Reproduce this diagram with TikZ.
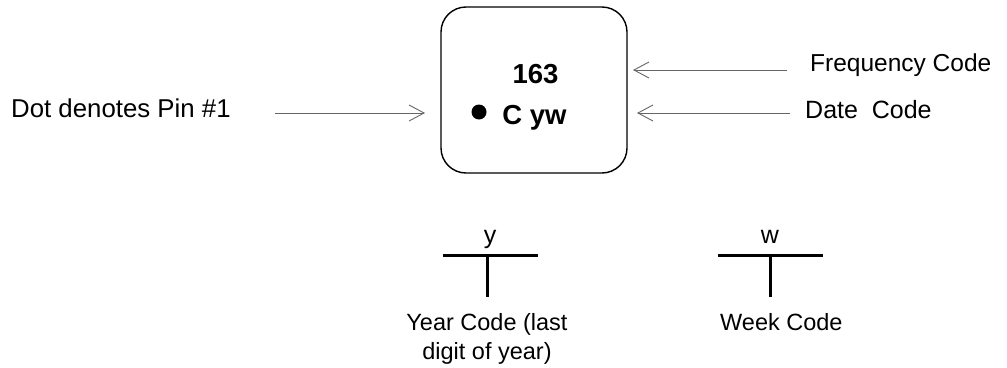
\documentclass[tikz,border=0pt]{standalone}
\usepackage{fontspec}
\setmainfont{Liberation Sans}
\usetikzlibrary{arrows.meta}

\tikzset{
	lbl/.style={inner sep=0pt,anchor=base,font=\fontsize{25}{29}\selectfont},
	mark text/.style={inner sep=0pt,anchor=base,font=\bfseries\fontsize{27.5}{30}\selectfont},
	ptr/.style={draw=black!60,line width=0.9pt,-{Straight Barb[length=15pt,width=16pt]}},
	tbar/.style={line width=3pt}
}

\begin{document}
\begin{tikzpicture}[x=1pt,y=-1pt]
			\useasboundingbox (0,0) rectangle (1007,367);
			% package outline and marking
			\node[draw,line width=1.4pt,rounded corners=25pt,minimum width=186pt,minimum height=166pt] (chip) at (534,90) {};
			\node[mark text] (num) at (535.5,83) {163};
			\node[circle,fill,inner sep=0pt,minimum size=15pt] (dot) at (479,112) {};
			\node[mark text] (code) at (534.5,124) {C yw};
			% labels with pointers
			\node[lbl,anchor=base west,font=\fontsize{25.8}{29}\selectfont] (pin) at (11,117) {Dot denotes Pin \#1};
			\coordinate (pinS) at (275,113);
			\coordinate (pinE) at (425,113);
			\draw[ptr] (pinS) -- (pinE);
			\node[lbl,anchor=base west,font=\fontsize{24.5}{29}\selectfont] (freq) at (810,71) {Frequency Code};
			\coordinate (freqS) at (787,70);
			\coordinate (freqE) at (633,70);
			\draw[ptr] (freqS) -- (freqE);
			\node[lbl,anchor=base west] (date) at (805,118) {Date\ \ Code};
			\coordinate (dateS) at (790,113);
			\coordinate (dateE) at (637,113);
			\draw[ptr] (dateS) -- (dateE);
			% year and week fields
			\node[lbl] (ylab) at (490,243) {y};
			\coordinate (yL) at (443,255);
			\coordinate (yR) at (538,255);
			\coordinate (yT) at (487,255);
			\coordinate (yB) at (487,297);
			\draw[tbar] (yL) -- (yR);
			\draw[tbar] (yT) -- (yB);
			\node[lbl,font=\fontsize{23.5}{29}\selectfont] (year1) at (487,330) {Year Code (last};
			\node[lbl,font=\fontsize{23.5}{29}\selectfont] (year2) at (487,359) {digit of year)};
			\node[lbl] (wlab) at (770,243) {w};
			\coordinate (wL) at (718,255);
			\coordinate (wR) at (823,255);
			\coordinate (wT) at (770,255);
			\coordinate (wB) at (770,297);
			\draw[tbar] (wL) -- (wR);
			\draw[tbar] (wT) -- (wB);
			\node[lbl,anchor=base west,font=\fontsize{23.5}{29}\selectfont] (week) at (720,330) {Week Code};
		\end{tikzpicture}
\end{document}
